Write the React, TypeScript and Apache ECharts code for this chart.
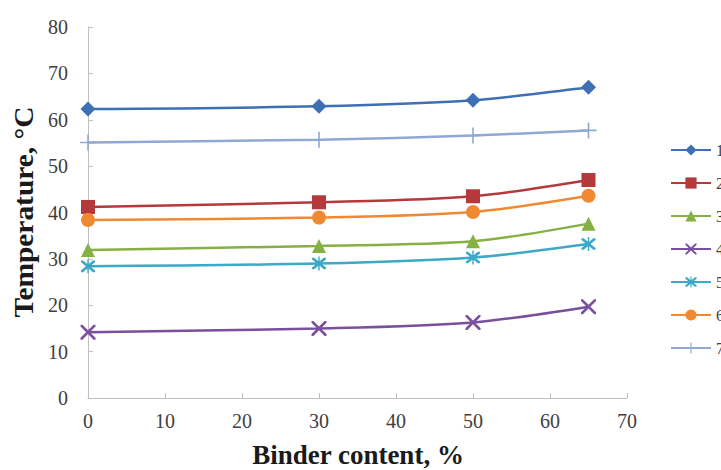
import React, { useEffect, useRef } from "react";
import * as echarts from "echarts";

const binderContent = [0, 30, 50, 65];
const seriesNames = ["1", "2", "3", "4", "5", "6", "7"];
const s1 = [62.3, 62.9, 64.2, 67.0];
const s2 = [41.2, 42.2, 43.5, 47.0];
const s3 = [31.9, 32.8, 33.8, 37.6];
const s4 = [14.2, 15.0, 16.3, 19.7];
const s5 = [28.4, 29.0, 30.3, 33.2];
const s6 = [38.4, 38.9, 40.1, 43.6];
const s7 = [55.1, 55.7, 56.6, 57.7];
const yTicks = [0, 10, 20, 30, 40, 50, 60, 70, 80];
const xTicks = [0, 10, 20, 30, 40, 50, 60, 70];

const colors = ["#3f6fb4", "#b5383a", "#86b043", "#7a4f9e", "#3ca9c6", "#f08a32", "#8fa8d8"];

const X_PATH = "path://M0,0 L2.5,0 L10,7.5 L17.5,0 L20,0 L20,2.5 L12.5,10 L20,17.5 L20,20 L17.5,20 L10,12.5 L2.5,20 L0,20 L0,17.5 L7.5,10 L0,2.5 Z";
const STAR_PATH = "path://M0,0 L3,0 L10,7 L17,0 L20,0 L20,3 L13,10 L20,17 L20,20 L17,20 L10,13 L3,20 L0,20 L0,17 L7,10 L0,3 Z M9,-2 L11,-2 L11,22 L9,22 Z";
const PLUS_PATH = "path://M9,0 L11,0 L11,9 L20,9 L20,11 L11,11 L11,20 L9,20 L9,11 L0,11 L0,9 L9,9 Z";

const symbols: [string, number][] = [
  ["diamond", 15],
  ["rect", 14],
  ["triangle", 14],
  [X_PATH, 15],
  [STAR_PATH, 14],
  ["circle", 14],
  [PLUS_PATH, 16],
];

export default function App() {
  const ref = useRef<HTMLDivElement>(null);
  useEffect(() => {
    if (!ref.current) return;
    const chart = echarts.init(ref.current, undefined, { renderer: "svg" });
    const all = [s1, s2, s3, s4, s5, s6, s7];
    const serif = "'Liberation Serif', 'Times New Roman', serif";
    chart.setOption({
      animation: false,
      backgroundColor: "#ffffff",
      grid: { left: 88, right: 94, top: 27, bottom: 72, containLabel: false },
      xAxis: {
        type: "value",
        min: xTicks[0],
        max: xTicks[xTicks.length - 1],
        interval: 10,
        axisLine: { lineStyle: { color: "#bfbfbf", width: 1 } },
        axisTick: { show: true, inside: true, length: 5, lineStyle: { color: "#bfbfbf" } },
        splitLine: { show: false },
        axisLabel: { color: "#404040", fontFamily: serif, fontSize: 20, margin: 13 },
      },
      yAxis: {
        type: "value",
        min: yTicks[0],
        max: yTicks[yTicks.length - 1],
        interval: 10,
        axisLine: { show: true, lineStyle: { color: "#bfbfbf", width: 1 } },
        axisTick: { show: true, inside: true, length: 5, lineStyle: { color: "#bfbfbf" } },
        splitLine: { show: false },
        axisLabel: { color: "#404040", fontFamily: serif, fontSize: 20, margin: 20 },
      },
      legend: {
        orient: "vertical",
        left: 670,
        top: 142,
        padding: 0,
        itemWidth: 40,
        itemHeight: 14,
        itemGap: 17,
        textStyle: { fontFamily: serif, fontSize: 16, color: "#404040" },
        data: seriesNames,
      },
      graphic: [
        {
          type: "text",
          x: 358,
          y: 455,
          style: {
            text: "Binder content, %",
            font: `bold 27px ${serif}`,
            fill: "#1a1a1a",
            align: "center",
            verticalAlign: "middle",
          },
        },
        {
          type: "text",
          x: 23,
          y: 212,
          rotation: Math.PI / 2,
          scaleX: 1.05,
          style: {
            text: "Temperature, °C",
            font: `bold 28px ${serif}`,
            fill: "#1a1a1a",
            align: "center",
            verticalAlign: "middle",
          },
        },
      ],
      series: all.map((vals, i) => ({
        name: seriesNames[i],
        type: "line",
        smooth: 0.3,
        data: vals.map((v, j) => [binderContent[j], v]),
        symbol: symbols[i][0],
        symbolSize: symbols[i][1],
        showAllSymbol: true,
        color: colors[i],
        lineStyle: { width: 2.5, color: colors[i] },
        itemStyle: { color: colors[i] },
      })),
    });
    return () => chart.dispose();
  }, []);
  return <div ref={ref} style={{ position: "fixed", left: 0, top: 0, width: 721, height: 470 }} />;
}
